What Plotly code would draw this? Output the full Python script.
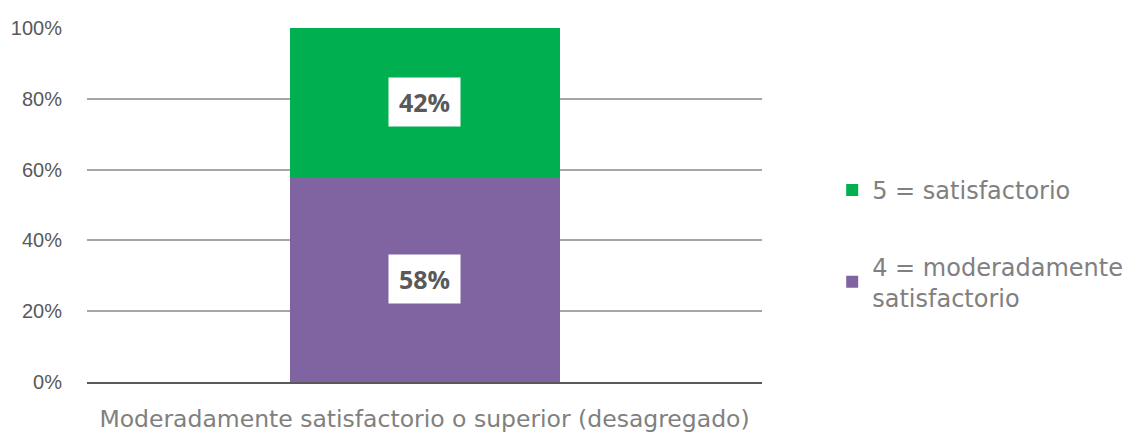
import plotly.graph_objects as go

categories = ["Moderadamente satisfactorio o superior (desagregado)"]
series_names = ["4 = moderadamente<br>satisfactorio", "5 = satisfactorio"]
series_values = [[58], [42]]
series_colors = ["#8064A2", "#00B050"]
legend_ranks = [2, 1]
y_ticks = [0, 20, 40, 60, 80, 100]
y_tick_labels = [f"{v}%" for v in y_ticks]

fig = go.Figure()
for name, vals, col, rank in zip(series_names, series_values, series_colors, legend_ranks):
    fig.add_trace(go.Bar(x=categories, y=vals, name=name, marker_color=col,
                         marker_line_width=0, width=0.4, legendgroup=name,
                         legendrank=rank))

# value labels at segment midpoints
base = [0] * len(categories)
for vals in series_values:
    for i, (c, v) in enumerate(zip(categories, vals)):
        fig.add_annotation(x=c, y=base[i] + v / 2, text=f"<b>{v}%</b>", showarrow=False,
                           font=dict(family="Open Sans", size=25, color="#595959"),
                           bgcolor="white", borderpad=9, width=53, height=30)
        base[i] += v

fig.update_layout(
    width=1131, height=434, barmode="stack",
    margin=dict(l=87, r=369, t=28, b=52, autoexpand=False),
    plot_bgcolor="white", paper_bgcolor="white",
    showlegend=True,
    legend=dict(x=1.104, y=0.39, xanchor="left", yanchor="middle",
                traceorder="grouped", tracegroupgap=42,
                font=dict(family="DejaVu Sans", size=24, color="#808080")),
    xaxis=dict(range=[-0.5, 0.5], showline=True, linecolor="#595959", linewidth=2,
               tickfont=dict(family="DejaVu Sans", size=23.5, color="#808080"),
               ticklabelstandoff=15, automargin=False),
    yaxis=dict(range=[0, 100], tickvals=y_ticks, ticktext=y_tick_labels, showgrid=True,
               gridcolor="#A6A6A6", gridwidth=1.5, zeroline=False,
               tickfont=dict(family="Liberation Sans", size=20, color="#595959"),
               ticklabelstandoff=24, automargin=False),
)
fig.write_html("out.html", config={"displayModeBar": False},
               post_script="document.body.style.margin='0';")
